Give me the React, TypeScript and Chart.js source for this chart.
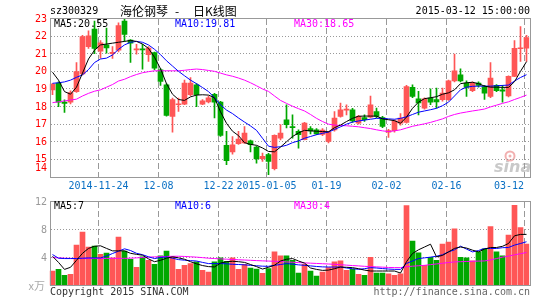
import React, { useEffect, useRef } from 'react';
import { Chart, registerables } from 'chart.js';
Chart.register(...registerables);

const dates = ['2014-11-12','2014-11-13','2014-11-14','2014-11-17','2014-11-18','2014-11-19','2014-11-20','2014-11-21','2014-11-24','2014-11-25','2014-11-26','2014-11-27','2014-11-28','2014-12-01','2014-12-02','2014-12-03','2014-12-04','2014-12-05','2014-12-08','2014-12-09','2014-12-10','2014-12-11','2014-12-12','2014-12-15','2014-12-16','2014-12-17','2014-12-18','2014-12-19','2014-12-22','2014-12-23','2014-12-24','2014-12-25','2014-12-26','2014-12-29','2014-12-30','2014-12-31','2015-01-05','2015-01-06','2015-01-07','2015-01-08','2015-01-09','2015-01-12','2015-01-13','2015-01-14','2015-01-15','2015-01-16','2015-01-19','2015-01-20','2015-01-21','2015-01-22','2015-01-23','2015-01-26','2015-01-27','2015-01-28','2015-01-29','2015-01-30','2015-02-02','2015-02-03','2015-02-04','2015-02-05','2015-02-06','2015-02-09','2015-02-10','2015-02-11','2015-02-12','2015-02-13','2015-02-16','2015-02-17','2015-02-25','2015-02-26','2015-02-27','2015-03-02','2015-03-03','2015-03-04','2015-03-05','2015-03-06','2015-03-09','2015-03-10','2015-03-11','2015-03-12'];

const opens = [18.95,19.33,18.25,18.25,18.85,19.85,21.4,22.4,21.15,21.5,21.0,21.2,22.85,21.78,21.22,21.28,20.95,21.07,20.09,19.24,17.44,18.1,18.14,18.67,19.24,18.14,18.27,18.7,18.25,15.8,15.42,15.89,15.93,16.06,15.7,15.04,15.27,14.47,16.2,17.25,16.87,16.59,16.12,16.75,16.68,16.42,16.02,16.68,17.44,17.8,17.82,17.06,17.38,17.4,17.72,17.38,16.55,16.63,17.06,17.1,19.09,18.44,17.91,18.48,18.39,18.39,18.39,19.46,19.8,19.33,18.9,19.33,19.14,18.57,19.2,18.95,18.6,19.71,21.28,21.32];
const closes = [19.27,18.25,18.18,18.8,19.98,21.97,22.02,21.3,21.62,21.33,21.08,22.6,22.1,21.6,21.28,21.22,21.32,20.18,19.43,17.5,18.39,18.16,19.33,19.33,18.67,18.33,18.5,18.25,16.36,14.93,15.83,16.15,16.5,15.83,15.02,15.17,14.89,16.36,16.5,16.97,16.8,16.4,17.06,16.62,16.45,16.66,16.55,17.35,17.82,17.84,17.19,17.44,17.25,18.1,17.44,16.87,16.63,17.19,17.35,19.14,18.57,18.2,18.44,18.25,18.27,18.76,19.46,20.03,19.46,19.09,19.33,19.2,18.76,19.61,18.9,18.87,19.71,21.3,21.34,21.92];
const highs = [19.3,19.4,18.38,18.9,20.5,22.05,22.3,22.85,21.75,22.45,21.4,22.75,23.0,21.8,21.54,21.54,21.4,21.1,20.15,19.3,18.48,18.48,19.5,19.65,19.3,18.4,18.6,18.75,18.3,16.59,16.3,16.6,16.87,16.1,15.75,15.36,15.35,16.4,16.97,18.1,17.53,16.68,17.1,16.87,16.75,16.75,16.6,17.72,18.2,18.1,17.9,17.5,17.53,18.6,17.91,17.45,16.7,17.25,17.6,19.2,19.24,18.86,18.5,19.0,19.05,19.05,19.5,20.98,20.14,19.46,19.4,19.4,19.2,20.5,19.25,19.2,19.75,21.75,22.54,22.05];
const lows = [18.67,18.0,17.67,18.15,18.8,19.8,21.3,21.0,20.75,21.03,20.74,21.1,21.7,20.5,20.98,20.12,20.56,20.1,19.2,17.45,16.55,17.72,18.1,18.6,18.0,18.1,18.2,17.35,16.3,14.7,15.3,15.85,15.9,15.42,14.79,14.89,14.13,14.4,16.1,16.78,16.2,15.64,16.1,16.45,16.4,16.35,15.93,16.6,17.4,17.53,17.1,17.0,17.16,17.35,17.35,16.8,16.25,16.55,16.95,17.05,18.5,17.53,17.85,18.1,17.91,18.3,18.35,19.4,19.4,18.57,18.85,19.1,18.4,18.5,18.85,18.25,18.55,19.7,20.56,20.56];

const ma5 = [19.95,19.5,18.85,18.7,19.1,19.9,20.7,21.2,21.5,21.55,21.6,21.65,21.7,21.75,21.7,21.55,21.3,20.8,20.15,19.3,18.7,18.4,18.35,18.55,18.65,18.67,18.65,18.5,17.7,17.05,16.6,16.35,15.95,15.85,15.8,15.65,15.45,15.43,15.7,16.0,16.3,16.5,16.65,16.62,16.6,16.58,16.57,16.8,16.95,17.15,17.33,17.45,17.46,17.46,17.46,17.3,17.25,17.2,17.05,17.4,17.9,18.25,18.45,18.5,18.56,18.7,18.78,18.95,19.3,19.35,19.38,19.3,19.16,19.1,19.1,19.09,19.09,19.41,20.0,20.55];
const ma10 = [19.32,19.35,19.4,19.5,19.66,19.8,20.1,20.5,20.7,20.75,20.93,21.25,21.5,21.65,21.7,21.65,21.5,21.25,20.95,20.6,20.3,20.0,19.75,19.5,19.3,19.08,18.85,18.5,18.1,17.8,17.6,17.35,17.12,16.9,16.65,16.2,15.75,15.68,15.72,15.8,15.95,16.05,16.2,16.3,16.4,16.48,16.55,16.7,16.85,17.0,17.12,17.18,17.23,17.28,17.33,17.33,17.3,17.28,17.33,17.42,17.55,17.68,17.75,17.82,17.9,18.05,18.25,18.6,18.95,19.1,19.15,19.16,19.16,19.16,19.18,19.2,19.22,19.45,19.65,19.81];
const ma30 = [18.22,18.27,18.32,18.37,18.42,18.6,18.75,18.87,18.95,19.1,19.25,19.45,19.55,19.7,19.82,19.92,19.98,20.03,20.03,20.03,20.03,20.03,20.06,20.1,20.13,20.1,20.05,20.0,19.9,19.8,19.72,19.62,19.5,19.35,19.18,19.0,18.86,18.6,18.35,18.18,18.02,17.88,17.75,17.55,17.33,17.15,17.0,16.95,16.92,16.91,16.88,16.85,16.8,16.75,16.68,16.62,16.58,16.62,16.68,16.78,16.88,16.95,17.02,17.1,17.2,17.3,17.44,17.55,17.63,17.69,17.75,17.8,17.86,17.98,18.08,18.18,18.27,18.4,18.52,18.65];

const volumes = [2.07,2.3,1.44,1.59,5.77,7.64,5.48,5.62,4.47,4.62,3.94,6.92,4.9,3.75,2.6,4.09,3.6,3.03,4.23,4.9,4.09,2.3,2.88,3.13,3.37,2.16,1.92,3.37,3.94,3.46,3.94,2.3,3.03,2.5,2.36,1.73,2.4,4.8,4.23,4.23,3.6,1.78,3.03,2.07,1.35,1.92,2.55,3.37,3.51,2.16,2.3,1.59,1.44,4.04,1.78,1.78,1.68,1.44,1.68,11.4,6.35,4.66,2.88,4.04,3.6,5.91,6.2,8.08,4.04,3.94,3.51,4.8,5.24,8.41,4.8,4.23,7.2,11.44,8.27,5.91];
const vma5 = [4.18,3.3,2.3,2.6,3.6,4.6,5.3,5.6,5.67,5.3,4.95,4.95,4.95,4.6,4.45,4.33,3.8,3.4,3.6,3.9,4.09,3.95,3.75,3.4,3.1,2.85,2.7,2.65,3.2,3.4,3.46,3.4,3.3,3.0,2.7,2.35,2.6,2.9,3.5,3.75,3.85,3.5,3.2,2.5,2.3,2.16,2.2,2.4,2.64,2.6,2.55,2.4,2.2,2.07,2.07,2.07,2.07,2.07,1.78,3.4,4.57,5.1,5.5,5.9,4.09,4.3,4.8,5.3,5.5,5.35,5.05,4.8,5.2,5.43,5.43,5.6,6.0,7.1,7.3,7.3];
const vma10 = [4.42,3.9,3.85,3.85,3.85,3.9,3.94,3.94,3.94,4.2,4.57,4.9,5.24,5.0,4.6,4.4,4.1,3.85,4.0,4.09,3.9,3.7,3.62,3.55,3.5,3.3,3.13,3.13,3.13,3.1,3.03,3.0,2.95,2.88,2.82,2.76,2.74,2.88,3.0,3.13,3.05,2.95,2.88,2.8,2.72,2.66,2.64,2.64,2.64,2.5,2.4,2.31,2.4,2.55,2.5,2.42,2.35,2.31,2.3,3.15,3.5,3.85,3.95,4.05,4.18,4.4,4.8,5.1,5.62,5.2,4.8,5.0,5.29,5.29,5.29,5.4,5.43,5.77,6.0,6.25];
const vma30 = [3.99,3.95,3.9,3.88,3.85,3.85,3.85,3.85,3.85,3.87,3.88,3.88,3.88,3.9,3.95,4.0,4.05,4.09,4.12,4.15,4.17,4.18,4.15,4.1,4.05,3.98,3.9,3.85,3.8,3.76,3.72,3.68,3.64,3.6,3.56,3.52,3.49,3.46,3.42,3.37,3.32,3.27,3.23,3.19,3.15,3.11,3.07,3.03,2.97,2.91,2.85,2.8,2.74,2.7,2.66,2.62,2.58,2.56,2.55,2.68,2.76,2.82,2.88,2.98,3.08,3.18,3.28,3.37,3.4,3.43,3.46,3.49,3.51,3.65,3.85,4.05,4.2,4.38,4.55,4.71];

const xTicks = [
  { date: '2014-11-24', text: '2014-11-24' },
  { date: '2014-12-08', text: '12-08' },
  { date: '2014-12-22', text: '12-22' },
  { date: '2015-01-05', text: '2015-01-05' },
  { date: '2015-01-19', text: '01-19' },
  { date: '2015-02-02', text: '02-02' },
  { date: '2015-02-16', text: '02-16' },
  { date: '2015-03-12', text: '03-12' },
];
const priceTicks = [14, 15, 16, 17, 18, 19, 20, 21, 22, 23];
const volTicks = [4, 8, 12];

const UP = '#ff5656';
const DOWN = '#00a800';
const GRID = '#999999';
const FRAME = '#999999';
const MONO = '10px "DejaVu Sans Mono", monospace';
const CJK = '12px "Noto Sans CJK SC", sans-serif';
const L = 50, R = 530;

const candleColors = opens.map((o, i) => (closes[i] >= o ? UP : DOWN));

function dashedV(ctx: any, x: number, top: number, bottom: number, on: number, off: number) {
  for (let yy = top; yy < bottom; yy += on + off) {
    ctx.fillRect(x, yy, 1, Math.min(on, bottom - yy));
  }
}
function dottedH(ctx: any, y: number, on: number, off: number) {
  for (let xx = L + 1; xx < R; xx += on + off) {
    ctx.fillRect(xx, y, Math.min(on, R - xx), 1);
  }
}

function drawGrid(chart: any, values: number[], top: number, bottom: number) {
  const ctx = chart.ctx;
  const x = chart.scales.x;
  const y = chart.scales.y;
  ctx.save();
  ctx.globalCompositeOperation = 'destination-over';
  ctx.fillStyle = GRID;
  for (const v of values) {
    dottedH(ctx, Math.floor(y.getPixelForValue(v)), 1, 2);
  }
  for (const t of xTicks) {
    const idx = dates.indexOf(t.date);
    const xx = Math.floor(x.getPixelForValue(idx) - 2);
    dashedV(ctx, xx, top, bottom, 6, 3);
  }
  ctx.restore();
}

const pricePlugin = {
  id: 'priceFrame',
  afterDraw(chart: any) {
    const ctx = chart.ctx;
    const y = chart.scales.y;
    const x = chart.scales.x;
    drawGrid(chart, priceTicks.slice(1, -1), 19, 177);
    ctx.save();
    ctx.globalCompositeOperation = 'destination-over';
    ctx.strokeStyle = '#f2b0b0';
    ctx.lineWidth = 2;
    ctx.beginPath();
    ctx.arc(510, 156, 4.5, 0, Math.PI * 2);
    ctx.stroke();
    ctx.fillStyle = '#f2b0b0';
    ctx.beginPath();
    ctx.arc(510, 156, 1.5, 0, Math.PI * 2);
    ctx.fill();
    ctx.font = 'italic bold 16px "DejaVu Sans", sans-serif';
    ctx.fillStyle = '#c9c9c9';
    ctx.textAlign = 'left';
    ctx.textBaseline = 'alphabetic';
    ctx.fillText('sina', 494, 172);
    ctx.globalCompositeOperation = 'source-over';

    ctx.strokeStyle = FRAME;
    ctx.lineWidth = 1;
    ctx.strokeRect(L + 0.5, 18.5, R - L, 159);

    ctx.font = MONO;
    ctx.fillStyle = '#ff0000';
    ctx.textAlign = 'right';
    ctx.textBaseline = 'middle';
    for (const v of priceTicks) {
      let yy = y.getPixelForValue(v);
      if (v === priceTicks[0]) yy -= 9.5;
      ctx.fillText(String(v), 47, yy + 0.5);
    }
    ctx.fillStyle = '#0a70c4';
    xTicks.forEach((t, k) => {
      const xx = x.getPixelForValue(dates.indexOf(t.date)) - 2;
      if (k === xTicks.length - 1) {
        ctx.textAlign = 'right';
        ctx.fillText(t.text, 524, 186.5);
      } else {
        ctx.textAlign = 'center';
        ctx.fillText(t.text, xx, 186.5);
      }
    });
    ctx.textAlign = 'left';
    ctx.fillStyle = '#000';
    ctx.fillText('sz300329', 50, 11.5);
    ctx.textAlign = 'right';
    ctx.fillText('2015-03-12 15:00:00', 530, 11.5);
    ctx.font = CJK;
    ctx.textAlign = 'left';
    ctx.fillText('海伦钢琴', 120, 11.5);
    ctx.fillText('-', 175, 11.5);
    ctx.fillText('日K线图', 193, 11.5);
    ctx.font = MONO;
    ctx.textAlign = 'left';
    ctx.fillStyle = '#000';
    ctx.fillText('MA5:' + ma5[ma5.length - 1].toFixed(2), 54, 24);
    ctx.fillStyle = '#0000ff';
    ctx.fillText('MA10:' + ma10[ma10.length - 1].toFixed(2), 175, 24);
    ctx.fillStyle = '#ff00ff';
    ctx.fillText('MA30:' + ma30[ma30.length - 1].toFixed(2), 294, 24);
    ctx.restore();
  },
};

const volPlugin = {
  id: 'volFrame',
  afterDraw(chart: any) {
    const ctx = chart.ctx;
    const y = chart.scales.y;
    drawGrid(chart, volTicks.slice(0, -1), 12, 95);
    ctx.save();
    ctx.strokeStyle = FRAME;
    ctx.lineWidth = 1;
    ctx.strokeRect(L + 0.5, 11.5, R - L, 84);
    ctx.font = MONO;
    ctx.fillStyle = '#999';
    ctx.textAlign = 'right';
    ctx.textBaseline = 'middle';
    for (const v of volTicks) {
      ctx.fillText(String(v), 47, y.getPixelForValue(v) + 0.5);
    }
    ctx.font = '11px "Noto Sans CJK SC", sans-serif';
    ctx.fillStyle = '#aaa';
    ctx.fillText('x万', 45, 96);
    ctx.font = MONO;
    ctx.textAlign = 'left';
    ctx.fillStyle = '#000';
    ctx.fillText('MA5:' + Math.floor(vma5[vma5.length - 1]), 54, 16.5);
    ctx.fillStyle = '#0000ff';
    ctx.fillText('MA10:' + Math.floor(vma10[vma10.length - 1]), 175, 16.5);
    ctx.fillStyle = '#ff00ff';
    ctx.fillText('MA30:' + Math.floor(vma30[vma30.length - 1]), 294, 16.5);
    ctx.fillStyle = '#333';
    ctx.fillText('Copyright 2015 SINA.COM', 50, 102.5);
    ctx.fillStyle = '#666';
    ctx.textAlign = 'right';
    ctx.fillText('http://finance.sina.com.cn', 530, 102.5);
    ctx.restore();
  },
};

function line(data: number[], color: string) {
  return {
    type: 'line' as const,
    data,
    borderColor: color,
    borderWidth: 1,
    pointRadius: 0,
    tension: 0,
    fill: false,
    order: 0,
  };
}

const commonOptions = (min: number, max: number, padding: any) => ({
  responsive: false,
  maintainAspectRatio: false,
  animation: false as const,
  devicePixelRatio: 1,
  events: [] as any[],
  layout: { padding },
  plugins: { legend: { display: false }, tooltip: { enabled: false } },
  scales: {
    x: { type: 'category' as const, display: false, offset: true, grid: { display: false } },
    y: { type: 'linear' as const, display: false, min, max, grid: { display: false } },
  },
});

export default function App() {
  const priceRef = useRef<HTMLCanvasElement>(null);
  const volRef = useRef<HTMLCanvasElement>(null);

  useEffect(() => {
    const price = new Chart(priceRef.current!, {
      type: 'bar',
      data: {
        labels: dates,
        datasets: [
          line(ma5, '#000000'),
          line(ma10, '#0000ff'),
          line(ma30, '#ff00ff'),
          {
            type: 'bar',
            data: opens.map((o, i) => [o, closes[i]]) as any,
            backgroundColor: candleColors,
            barThickness: 5,
            minBarLength: 1,
            grouped: false,
            borderWidth: 0,
            order: 1,
          } as any,
          {
            type: 'bar',
            data: lows.map((l, i) => [l, highs[i]]) as any,
            backgroundColor: candleColors,
            barThickness: 1,
            grouped: false,
            borderWidth: 0,
            order: 2,
          } as any,
        ],
      },
      options: commonOptions(14, 23, { left: 49.5, right: 15.5, top: 18.5, bottom: 19 }) as any,
      plugins: [pricePlugin],
    });

    const vol = new Chart(volRef.current!, {
      type: 'bar',
      data: {
        labels: dates,
        datasets: [
          line(vma5, '#000000'),
          line(vma10, '#0000ff'),
          line(vma30, '#ff00ff'),
          {
            type: 'bar',
            data: volumes,
            backgroundColor: candleColors,
            barThickness: 5,
            grouped: false,
            borderWidth: 0,
            order: 1,
          } as any,
        ],
      },
      options: commonOptions(0, 12, { left: 49.5, right: 15.5, top: 11.5, bottom: 14.5 }) as any,
      plugins: [volPlugin],
    });

    return () => {
      price.destroy();
      vol.destroy();
    };
  }, []);

  const abs = (top: number, h: number) => ({ position: 'absolute' as const, left: 0, top, width: 545, height: h });

  return (
    <div style={{ position: 'fixed', left: 0, top: 0, width: 545, height: 300, background: '#fff' }}>
      <canvas ref={priceRef} width={545} height={196} style={abs(0, 196)} />
      <canvas ref={volRef} width={545} height={110} style={abs(190, 110)} />
    </div>
  );
}
